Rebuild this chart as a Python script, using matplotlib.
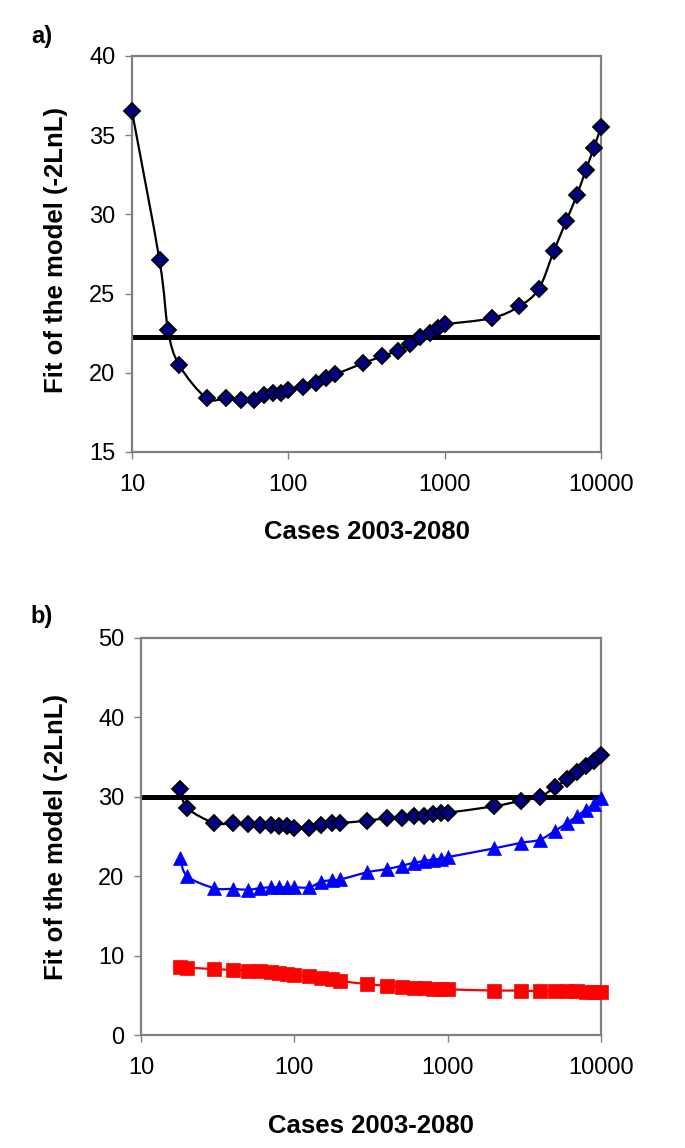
import matplotlib
matplotlib.use("Agg")
import matplotlib.pyplot as plt
import numpy as np
from matplotlib.path import Path
from matplotlib.patches import PathPatch

# ---- Panel a data ----
cases_a = [10, 15, 17, 20, 30, 40, 50, 60, 70, 80, 90, 100, 125, 150, 175, 200,
           300, 400, 500, 600, 700, 800, 900, 1000, 2000, 3000, 4000, 5000,
           6000, 7000, 8000, 9000, 10000]
fit_a = [36.5, 27.1, 22.7, 20.5, 18.4, 18.4, 18.3, 18.3, 18.6, 18.7, 18.75, 18.9,
         19.1, 19.35, 19.7, 19.9, 20.6, 21.05, 21.4, 21.8, 22.25, 22.5, 22.8, 23.05,
         23.45, 24.2, 25.3, 27.7, 29.6, 31.2, 32.8, 34.2, 35.5]
threshold_a = 22.25

# ---- Panel b data ----
cases_b = [18, 20, 30, 40, 50, 60, 70, 80, 90, 100, 125, 150, 175, 200,
           300, 400, 500, 600, 700, 800, 900, 1000, 2000, 3000, 4000, 5000,
           6000, 7000, 8000, 9000, 10000]
fit_b_diamond = [31.0, 28.6, 26.7, 26.7, 26.6, 26.5, 26.4, 26.3, 26.3, 26.1, 26.1,
                 26.5, 26.7, 26.7, 27.0, 27.3, 27.3, 27.6, 27.6, 27.85, 27.9, 28.0,
                 28.8, 29.5, 30.0, 31.2, 32.2, 33.1, 33.9, 34.5, 35.3]
fit_b_triangle = [22.3, 20.0, 18.5, 18.4, 18.3, 18.5, 18.6, 18.6, 18.6, 18.6, 18.6,
                  19.3, 19.5, 19.6, 20.5, 20.9, 21.3, 21.7, 21.9, 22.1, 22.2, 22.4,
                  23.5, 24.2, 24.6, 25.7, 26.7, 27.6, 28.4, 29.1, 29.8]
fit_b_square = [8.6, 8.5, 8.3, 8.2, 8.1, 8.0, 7.9, 7.8, 7.7, 7.6, 7.4, 7.2, 7.0, 6.8,
                6.4, 6.2, 6.05, 5.95, 5.9, 5.85, 5.8, 5.75, 5.6, 5.6, 5.5, 5.5,
                5.5, 5.5, 5.45, 5.45, 5.45]
threshold_b = 30

xticks = [10, 100, 1000, 10000]
xticklabels = ["10", "100", "1000", "10000"]
yticks_a = [15, 20, 25, 30, 35, 40]
yticks_b = [0, 10, 20, 30, 40, 50]

plt.rcParams['font.family'] = ['Liberation Sans', 'DejaVu Sans']

W, H = 685, 1148
fig = plt.figure(figsize=(W / 100, H / 100), dpi=100)

gray = '#808080'
tick_fs = 17
label_fs = 18.5


def style(ax, xlim, ylim, yticks):
    ax.set_xscale('log')
    ax.set_xlim(*xlim)
    ax.set_ylim(*ylim)
    ax.set_xticks(xticks)
    ax.set_xticklabels(xticklabels)
    ax.xaxis.set_minor_locator(matplotlib.ticker.NullLocator())
    ax.set_yticks(yticks)
    ax.set_yticklabels([str(v) for v in yticks])
    for sp in ax.spines.values():
        sp.set_color(gray)
        sp.set_linewidth(1.6)
    ax.tick_params(axis='both', direction='out', length=5, width=1.0,
                   color=gray, labelsize=tick_fs)
    ax.tick_params(axis='x', pad=11)
    ax.tick_params(axis='y', pad=7)


def smooth_line(ax, xs, ys, color, lw, zorder):
    """Excel-style smoothed connector (Catmull-Rom Bezier in screen space)."""
    pts = ax.transData.transform(np.column_stack([xs, ys]))
    n = len(pts)
    verts = [pts[0]]
    codes = [Path.MOVETO]
    for i in range(n - 1):
        p0 = pts[i - 1] if i > 0 else pts[i]
        p1 = pts[i]
        p2 = pts[i + 1]
        p3 = pts[i + 2] if i + 2 < n else pts[i + 1]
        c1 = p1 + (p2 - p0) / 6.0
        c2 = p2 - (p3 - p1) / 6.0
        verts += [c1, c2, p2]
        codes += [Path.CURVE4] * 3
    data_verts = ax.transData.inverted().transform(np.array(verts))
    patch = PathPatch(Path(data_verts, codes), fill=False, edgecolor=color,
                      lw=lw, zorder=zorder, capstyle='round', joinstyle='round')
    ax.add_patch(patch)


# Panel a
axa = fig.add_axes([132 / W, 1 - 452 / H, (601 - 132) / W, (452 - 56) / H])
style(axa, (10, 10000), (15, 40), yticks_a)
axa.axhline(threshold_a, color='black', lw=3.6, zorder=2)
smooth_line(axa, cases_a, fit_a, 'black', 1.6, 3)
axa.plot(cases_a, fit_a, linestyle='none', marker='D', ms=8,
         mfc='#000080', mec='black', mew=1.3, zorder=4, clip_on=False)
axa.set_xlabel('Cases 2003-2080', fontsize=label_fs, fontweight='bold')
axa.set_ylabel('Fit of the model (-2LnL)', fontsize=label_fs, fontweight='bold')
axa.xaxis.set_label_coords(0.5, -(520 - 452) / 396)
axa.yaxis.set_label_coords(-(132 - 68) / 469, 0.51)
fig.text(42 / W, 1 - 37 / H, 'a)', fontsize=17, fontweight='bold', ha='center', va='center')

# Panel b
axb = fig.add_axes([141 / W, 1 - 1035 / H, (601 - 141) / W, (1035 - 638) / H])
style(axb, (10, 10000), (0, 50), yticks_b)
axb.axhline(threshold_b, color='black', lw=3.6, zorder=2)
smooth_line(axb, cases_b, fit_b_square, '#FF0000', 1.6, 3)
axb.plot(cases_b, fit_b_square, linestyle='none', marker='s', ms=10.5,
         mfc='#FF0000', mec='#FF0000', mew=0.5, zorder=4, clip_on=False)
smooth_line(axb, cases_b, fit_b_triangle, '#0000FF', 1.6, 5)
axb.plot(cases_b, fit_b_triangle, linestyle='none', marker='^', ms=10.5,
         mfc='#0000FF', mec='#0000FF', mew=0.5, zorder=6, clip_on=False)
smooth_line(axb, cases_b, fit_b_diamond, 'black', 1.6, 7)
axb.plot(cases_b, fit_b_diamond, linestyle='none', marker='D', ms=8,
         mfc='#000080', mec='black', mew=1.3, zorder=8, clip_on=False)
axb.set_xlabel('Cases 2003-2080', fontsize=label_fs, fontweight='bold')
axb.set_ylabel('Fit of the model (-2LnL)', fontsize=label_fs, fontweight='bold')
axb.xaxis.set_label_coords(0.5, -(1114 - 1035) / 397)
axb.yaxis.set_label_coords(-(141 - 68) / 460, 0.5)
fig.text(42 / W, 1 - 617 / H, 'b)', fontsize=17, fontweight='bold', ha='center', va='center')

fig.savefig('out.png', dpi=100)
